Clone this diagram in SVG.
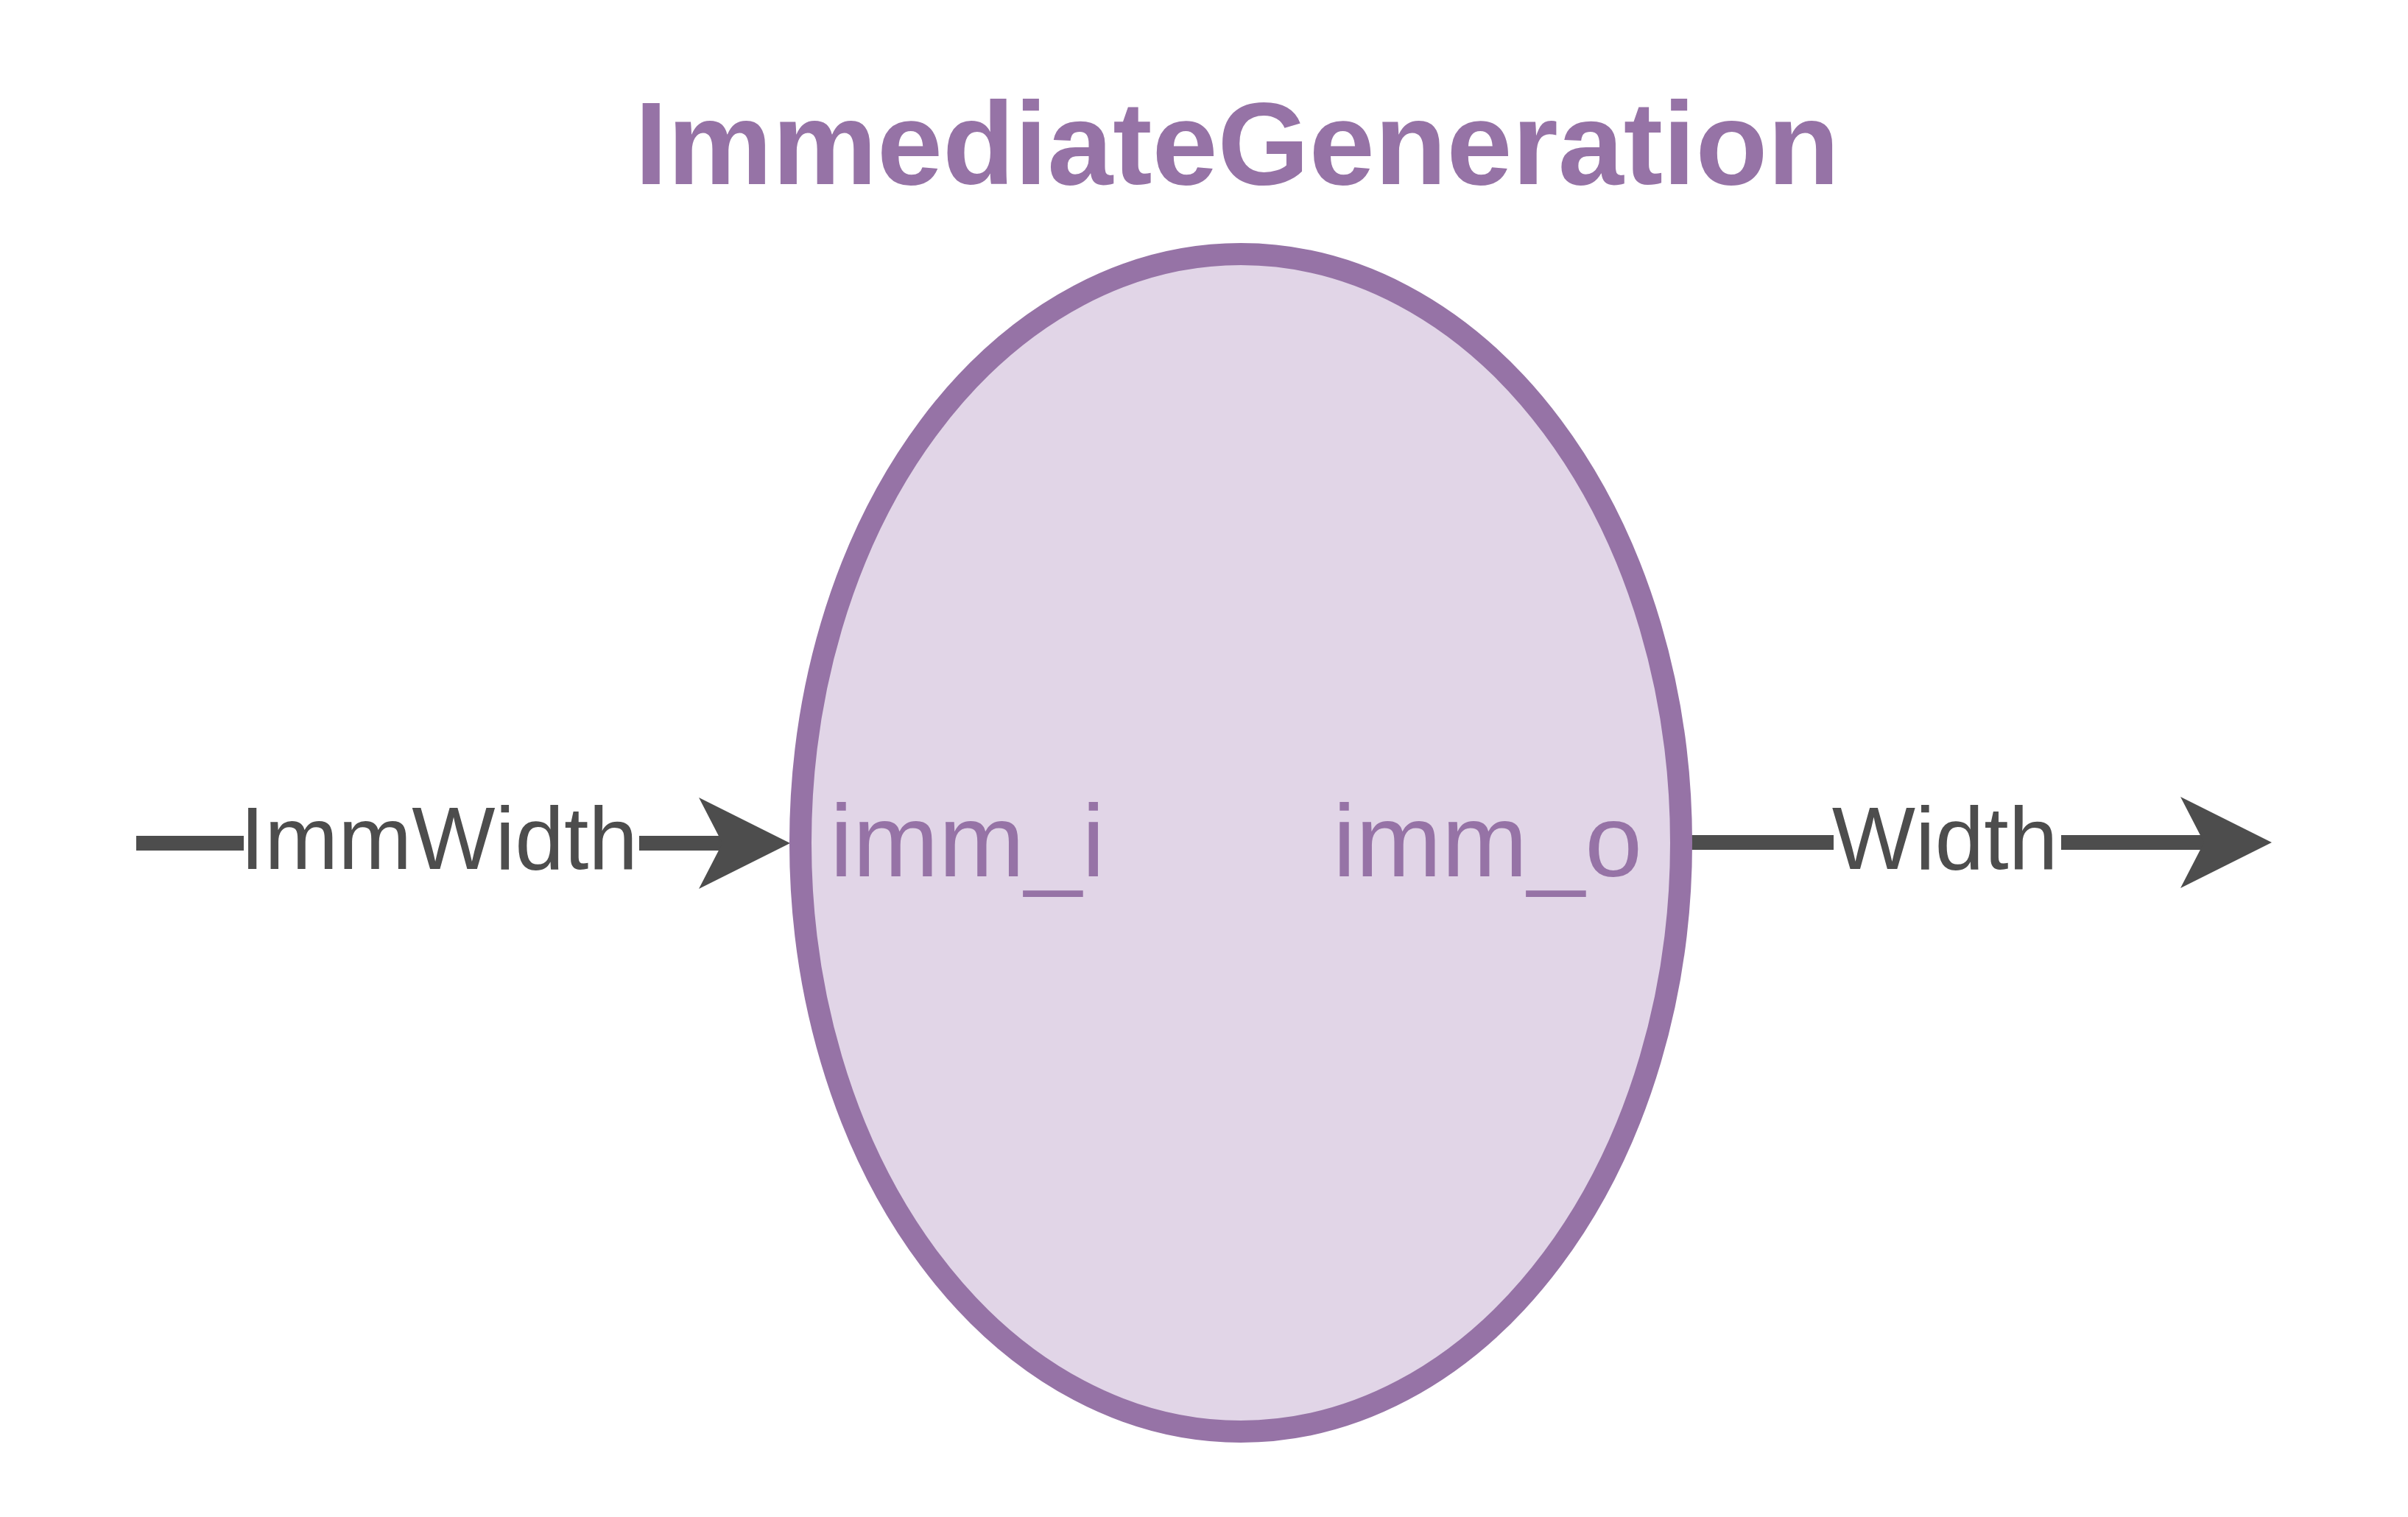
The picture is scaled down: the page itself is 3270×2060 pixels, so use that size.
<svg xmlns="http://www.w3.org/2000/svg" width="3270" height="2060" viewBox="0 0 3270 2060">
  <style>
    .title { font-family: "Liberation Sans", Arial, sans-serif; font-weight: bold; font-size: 160px; fill: #9673A6; }
    .port { font-family: "Liberation Sans", Arial, sans-serif; font-size: 140px; fill: #9673A6; }
    .lbl { font-family: "Liberation Sans", Arial, sans-serif; font-size: 120px; fill: #4D4D4D; }
    .edge { stroke: #4D4D4D; stroke-width: 20; fill: none; }
    .lblbg { fill: #FFFFFF; }
  </style>
  <defs>
    <marker id="arrow" markerUnits="userSpaceOnUse" markerWidth="130" markerHeight="130" refX="32" refY="62" orient="auto" overflow="visible">
      <path d="M0,0 L124,62 L0,124 L32,62 Z" fill="#4D4D4D"/>
    </marker>
  </defs>
  <rect width="3270" height="2060" fill="#FFFFFF"/>
  <g id="title">
    <text class="title" x="1680" y="250" text-anchor="middle">ImmediateGeneration</text>
  </g>
  <g id="connectors">
    <g id="edge-in">
      <path class="edge" d="M185,1145 L981,1145" marker-end="url(#arrow)"/>
      <rect class="lblbg" x="331" y="1120" width="537" height="50"/>
      <text class="lbl" x="596" y="1180" text-anchor="middle">ImmWidth</text>
    </g>
    <g id="edge-out">
      <path class="edge" d="M2296,1144 L2993,1144" marker-end="url(#arrow)"/>
      <rect class="lblbg" x="2490" y="1119" width="309" height="50"/>
      <text class="lbl" x="2641" y="1180" text-anchor="middle">Width</text>
    </g>
  </g>
  <g id="node-immgen">
    <ellipse cx="1685" cy="1144.5" rx="598" ry="799.5" fill="#E1D5E7" stroke="#9673A6" stroke-width="30"/>
    <text class="port" x="1127" y="1190">imm_i</text>
    <text class="port" x="1810" y="1190">imm_o</text>
  </g>
</svg>
